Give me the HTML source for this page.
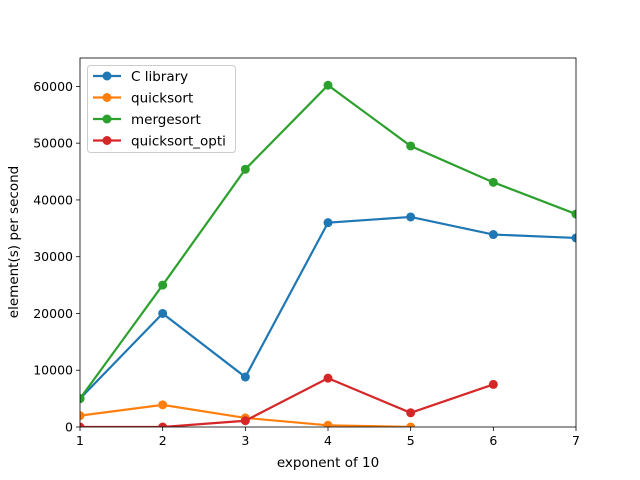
<!DOCTYPE html>
<html><head><meta charset="utf-8"><style>body{margin:0;background:#fff}svg{display:block;font-family:"DejaVu Sans","Liberation Sans",sans-serif}</style></head>
<body>
<svg id="c" width="640" height="480"></svg>
<script>
const xs=[1,2,3,4,5,6,7];
const cLibrary=[5000,20000,8800,36000,37000,33900,33300];
const quicksort=[2000,3900,1600,300,0];
const mergesort=[5000,25000,45400,60200,49500,43100,37500];
const quicksortOpti=[0,0,1100,8600,2500,7500];
const yTicks=[0,10000,20000,30000,40000,50000,60000];
const xTicks=[1,2,3,4,5,6,7];
const names=["C library","quicksort","mergesort","quicksort_opti"];
const colors=["#1f77b4","#ff7f0e","#2ca02c","#d62728"];
const L=80,R=576,T=58,B=427;
const X=v=>L+(v-1)*(R-L)/6;
const Y=v=>B-v*(B-T)/65000;
const s=document.getElementById('c');const NS="http://www.w3.org/2000/svg";
function el(t,a,p){const e=document.createElementNS(NS,t);for(const k in a)e.setAttribute(k,a[k]);(p||s).appendChild(e);return e;}
const defs=el('defs',{});const cp=el('clipPath',{id:'cp'},defs);el('rect',{x:L,y:T,width:R-L,height:B-T},cp);
yTicks.forEach(v=>{const y=Y(v);
const tk=el('line',{x1:L-4,x2:L,y1:y,y2:y,stroke:'#000','stroke-width':0.8});

const t=el('text',{x:L-7,y:y+4.5,'text-anchor':'end','font-size':12.5});t.textContent=v;
});
xTicks.forEach(v=>{const x=X(v);
const tk=el('line',{x1:x,x2:x,y1:B,y2:B+4,stroke:'#000','stroke-width':0.8});

const t=el('text',{x:x,y:B+18,'text-anchor':'middle','font-size':12.5});t.textContent=v;
});
const g=el('g',{'clip-path':'url(#cp)'});

[cLibrary,quicksort,mergesort,quicksortOpti].forEach((d,i)=>{
const pts=d.map((v,j)=>X(xs[j])+','+Y(v)).join(' ');
const pl=el('polyline',{points:pts,fill:'none',stroke:colors[i],'stroke-width':2.2},g);


d.forEach((v,j)=>{const c=el('circle',{cx:X(xs[j]),cy:Y(v),r:4.5,fill:colors[i]},g);
});
});
const fr=el('rect',{x:L,y:T,width:R-L,height:B-T,fill:'none',stroke:'#000','stroke-width':0.8});

const xl=el('text',{x:(L+R)/2,y:467,'text-anchor':'middle','font-size':13.5});xl.textContent='exponent of 10';

const yl=el('text',{x:0,y:0,'text-anchor':'middle','font-size':13.5,transform:'translate(18,242) rotate(-90)'});yl.textContent='element(s) per second';

const lg=el('g',{});
el('rect',{x:87.5,y:65.5,width:148,height:87,rx:3,fill:'#fff','fill-opacity':0.8,stroke:'#ccc'},lg);
names.forEach((n,i)=>{const y=76+i*21.5;
const e=el('g',{},lg);
el('line',{x1:93,x2:121,y1:y,y2:y,stroke:colors[i],'stroke-width':2.2},e);
el('circle',{cx:107,cy:y,r:4.5,fill:colors[i]},e);
const t=el('text',{x:131,y:y+5,'font-size':13.5},e);t.textContent=n;});
</script>
</body></html>
